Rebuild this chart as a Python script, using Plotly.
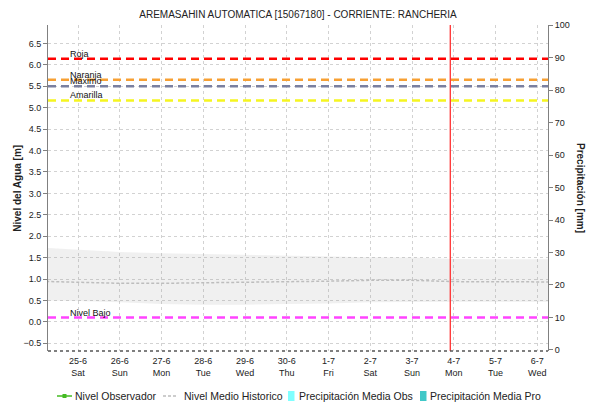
import plotly.graph_objects as go

# ---- data -------------------------------------------------------------
tick_dates = ["2022-06-25", "2022-06-26", "2022-06-27", "2022-06-28", "2022-06-29",
              "2022-06-30", "2022-07-01", "2022-07-02", "2022-07-03", "2022-07-04",
              "2022-07-05", "2022-07-06"]
tick_days = ["25-6", "26-6", "27-6", "28-6", "29-6", "30-6", "1-7", "2-7", "3-7",
             "4-7", "5-7", "6-7"]
tick_weekdays = ["Sat", "Sun", "Mon", "Tue", "Wed", "Thu", "Fri", "Sat", "Sun",
                 "Mon", "Tue", "Wed"]

hist_dates = ["2022-06-24", "2022-06-25", "2022-06-26", "2022-06-27", "2022-06-28",
              "2022-06-29", "2022-06-30", "2022-07-01", "2022-07-02", "2022-07-03",
              "2022-07-04", "2022-07-05", "2022-07-06", "2022-07-07"]
hist_max = [1.74, 1.69, 1.63, 1.60, 1.58, 1.56, 1.55, 1.53, 1.51, 1.50, 1.47, 1.46, 1.46, 1.46]
hist_min = [0.50, 0.49, 0.46, 0.42, 0.40, 0.40, 0.42, 0.43, 0.46, 0.47, 0.47, 0.47, 0.47, 0.47]
hist_mean = [0.95, 0.93, 0.90, 0.90, 0.91, 0.92, 0.93, 0.95, 0.97, 0.97, 0.94, 0.93, 0.93, 0.93]

obs_dates = []
obs_levels = []
precip_dates = []
precip_obs = []
precip_pro = []

alert_names = ["Roja", "Naranja", "Maximo", "Amarilla", "Nivel Bajo"]
alert_values = [6.14, 5.65, 5.50, 5.17, 0.10]
alert_colors = ["#ff0000", "#f7a033", "#7a80a0", "#f5f520", "#ff44ff"]

now_time = "2022-07-03 22:00"
x_range = ["2022-06-24 06:45", "2022-07-06 06:10"]

# ---- layout geometry --------------------------------------------------
W, H = 590, 403
ML, MR, MT, MB = 48, 42, 25, 52
PW, PH = W - ML - MR, H - MT - MB


def fx(px):
    return (px - ML) / PW


def fy(py):
    return (H - MB - py) / PH


FONT = "Liberation Sans, Arial, sans-serif"
TXT = "#222222"
GRID = "#d2d2d2"

fig = go.Figure()

# historic band (min..max) and mean
fig.add_trace(go.Scatter(x=hist_dates, y=hist_min, mode="lines", line=dict(width=0),
                         showlegend=False, hoverinfo="skip"))
fig.add_trace(go.Scatter(x=hist_dates, y=hist_max, mode="lines", line=dict(width=0),
                         fill="tonexty", fillcolor="rgba(150,150,150,0.14)",
                         showlegend=False, hoverinfo="skip"))
fig.add_trace(go.Scatter(x=hist_dates, y=hist_mean, mode="lines",
                         name="Nivel Medio Historico",
                         line=dict(color="#bdbdbd", width=1.5, dash="3px,2px"),
                         showlegend=False))

# observed level and precipitation series
fig.add_trace(go.Scatter(x=obs_dates, y=obs_levels, mode="lines+markers",
                         name="Nivel Observador",
                         line=dict(color="#44bb22", width=1.5),
                         marker=dict(symbol="square", size=4, color="#44bb22"),
                         showlegend=False))
fig.add_trace(go.Bar(x=precip_dates, y=precip_obs, name="Precipitación Media Obs",
                     marker_color="#80ffff", yaxis="y2", showlegend=False))
fig.add_trace(go.Bar(x=precip_dates, y=precip_pro, name="Precipitación Media Pro",
                     marker_color="#40c8c8", yaxis="y2", showlegend=False))

shapes = []
annotations = []

# alert levels
for name, val, col in zip(alert_names, alert_values, alert_colors):
    shapes.append(dict(type="line", xref="paper", x0=0, x1=1, yref="y", y0=val, y1=val,
                       line=dict(color=col, width=2.5, dash="8px,5px")))
    annotations.append(dict(text=name, xref="paper", x=fx(69), yref="y", y=val,
                            xanchor="left", yanchor="middle", yshift=5, showarrow=False,
                            borderpad=0, font=dict(family=FONT, size=9, color="#111111")))

# current time marker
shapes.append(dict(type="line", xref="x", x0=now_time, x1=now_time, yref="paper",
                   y0=0, y1=1, line=dict(color="#ff3030", width=1.3)))

# bottom axis dotted line
shapes.append(dict(type="line", xref="paper", x0=0, x1=1, yref="paper", y0=0, y1=0,
                   line=dict(color="#555555", width=1.5, dash="dot")))

# axis titles
annotations.append(dict(text="<b>Nivel del Agua [m]</b>", xref="paper", x=fx(16.7),
                        yref="paper", y=0.5, textangle=-90, showarrow=False,
                        xanchor="center", yanchor="middle",
                        font=dict(family=FONT, size=10, color=TXT)))
annotations.append(dict(text="<b>Precipitación [mm]</b>", xref="paper", x=fx(581),
                        yref="paper", y=0.5, textangle=90, showarrow=False,
                        xanchor="center", yanchor="middle",
                        font=dict(family=FONT, size=10, color=TXT)))

# legend
LY = 396
shapes.append(dict(type="line", xref="paper", yref="paper", x0=fx(57), x1=fx(72),
                   y0=fy(LY), y1=fy(LY), line=dict(color="#44bb22", width=1.5)))
shapes.append(dict(type="rect", xref="paper", yref="paper", x0=fx(62.5), x1=fx(66.5),
                   y0=fy(LY - 2), y1=fy(LY + 2), line=dict(width=0), fillcolor="#44bb22"))
shapes.append(dict(type="line", xref="paper", yref="paper", x0=fx(163), x1=fx(178),
                   y0=fy(LY), y1=fy(LY), line=dict(color="#bdbdbd", width=1.5, dash="3px,2px")))
shapes.append(dict(type="rect", xref="paper", yref="paper", x0=fx(288), x1=fx(294.5),
                   y0=fy(LY + 5), y1=fy(LY - 5), line=dict(width=0), fillcolor="#80ffff"))
shapes.append(dict(type="rect", xref="paper", yref="paper", x0=fx(420), x1=fx(426.5),
                   y0=fy(LY + 5), y1=fy(LY - 5), line=dict(width=0), fillcolor="#40c8c8"))
for label, px in [("Nivel Observador", 74), ("Nivel Medio Historico", 182.7),
                  ("Precipitación Media Obs", 298), ("Precipitación Media Pro", 429)]:
    annotations.append(dict(text=label, xref="paper", x=fx(px), yref="paper", y=fy(LY),
                            xanchor="left", yanchor="middle", showarrow=False, borderpad=0,
                            font=dict(family=FONT, size=10.5, color=TXT)))

fig.update_layout(
    width=W, height=H,
    margin=dict(l=ML, r=MR, t=MT, b=MB, pad=0),
    paper_bgcolor="white", plot_bgcolor="white",
    showlegend=False,
    title=dict(text="AREMASAHIN AUTOMATICA [15067180] - CORRIENTE: RANCHERIA",
               x=fx(298), xref="paper", xanchor="center",
               y=1 - 14.5 / H, yref="container", yanchor="middle",
               font=dict(family=FONT, size=10, color=TXT)),
    font=dict(family=FONT, size=9, color=TXT),
    xaxis=dict(type="date", range=x_range,
               tickvals=tick_dates,
               ticktext=[f"{d}<br>{w}" for d, w in zip(tick_days, tick_weekdays)],
               ticks="", showline=False, zeroline=False, ticklabelstandoff=3,
               showgrid=True, gridcolor=GRID, griddash="dot", gridwidth=1,
               tickfont=dict(family=FONT, size=9, color=TXT)),
    yaxis=dict(range=[-0.68, 6.93], tickvals=[i * 0.5 for i in range(-1, 14)],
               tickformat=".1f", ticks="outside", ticklen=4, tickcolor="#808080",
               showline=True, linecolor="#808080", linewidth=1, zeroline=False,
               showgrid=True, gridcolor=GRID, griddash="dot", gridwidth=1,
               tickfont=dict(family=FONT, size=9, color=TXT)),
    yaxis2=dict(range=[-0.31, 100], overlaying="y", side="right",
                tickvals=list(range(0, 101, 10)), ticks="outside", ticklen=4,
                tickcolor="#808080", showline=True, linecolor="#808080", linewidth=1,
                showgrid=False, zeroline=False,
                tickfont=dict(family=FONT, size=9, color=TXT)),
    shapes=shapes,
    annotations=annotations,
)

fig.write_html("out.html")
